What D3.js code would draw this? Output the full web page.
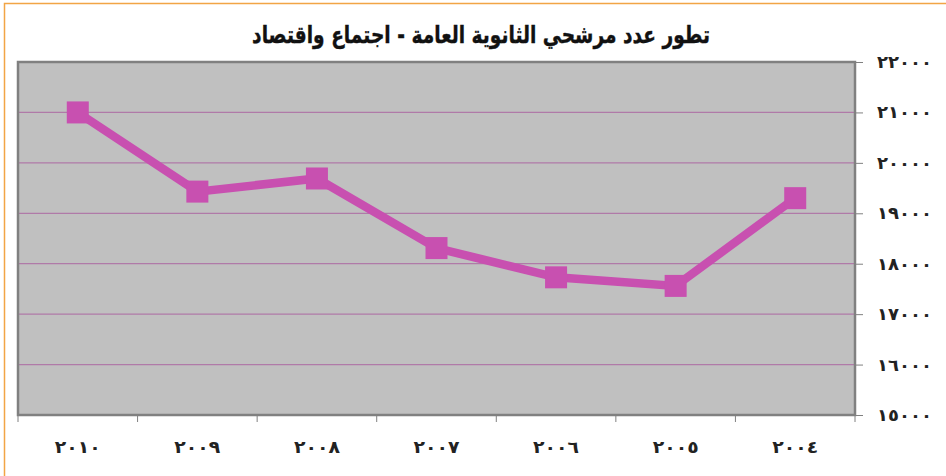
<!DOCTYPE html>
<html lang="ar">
<head>
<meta charset="utf-8">
<script src="https://cdn.jsdelivr.net/npm/d3@7"></script>
<style>
  html, body { margin: 0; padding: 0; background: #ffffff; }
  svg { display: block; }
  text { font-family: "DejaVu Sans", sans-serif; }
</style>
</head>
<body>
<svg id="chart" width="946" height="476"></svg>
<script>
// Candidates for the general secondary exam (sociology & economics track), 2004–2010
const titleText = "تطور عدد مرشحي الثانوية العامة - اجتماع واقتصاد";
const years = ["2010", "2009", "2008", "2007", "2006", "2005", "2004"];
const yearLabels = ["٢٠١٠", "٢٠٠٩", "٢٠٠٨", "٢٠٠٧", "٢٠٠٦", "٢٠٠٥", "٢٠٠٤"];
const candidates = [21000, 19430, 19690, 18310, 17730, 17560, 19300];
const yTicks = [15000, 16000, 17000, 18000, 19000, 20000, 21000, 22000];
const yTickLabels = ["١٥٠٠٠", "١٦٠٠٠", "١٧٠٠٠", "١٨٠٠٠", "١٩٠٠٠", "٢٠٠٠٠", "٢١٠٠٠", "٢٢٠٠٠"];

const svg = d3.select("#chart");
const plot = { left: 18, right: 855, top: 62, bottom: 415 };

const x = d3.scaleBand().domain(years).range([plot.left, plot.right]).padding(0);
const y = d3.scaleLinear().domain([15000, 22000]).range([plot.bottom, plot.top]);

// Place a text node, squeezing it horizontally to a target width
function fitText(parent, str, px, py, width, anchor, opts) {
  const g = parent.append("g");
  const t = g.append("text")
    .attr("x", 0).attr("y", 0)
    .attr("text-anchor", anchor)
    .attr("font-size", opts.size)
    .attr("font-weight", "bold")
    .attr("fill", opts.fill)
    .attr("direction", opts.dir || "ltr")
    .text(str);
  if (opts.stroke) t.attr("stroke", opts.fill).attr("stroke-width", opts.stroke);
  const w = t.node().getComputedTextLength();
  const s = w > 0 ? width / w : 1;
  g.attr("transform", `translate(${px},${py}) scale(${s},1)`);
  return g;
}

// Orange frame around the figure
svg.append("path")
  .attr("d", `M4.5,476 V3.5 H946`)
  .attr("fill", "none")
  .attr("stroke", "#f2a545")
  .attr("stroke-width", 1.5);

// Title
fitText(svg, titleText, 481, 43, 458, "middle", { size: 24, fill: "#111", dir: "rtl", stroke: 0.4 });

// Plot background
svg.append("rect")
  .attr("x", plot.left).attr("y", plot.top)
  .attr("width", plot.right - plot.left).attr("height", plot.bottom - plot.top)
  .attr("fill", "#c0c0c0");

// Horizontal gridlines
svg.append("g")
  .selectAll("line")
  .data(yTicks.filter(v => v > 15000 && v < 22000))
  .join("line")
  .attr("x1", plot.left).attr("x2", plot.right)
  .attr("y1", d => y(d)).attr("y2", d => y(d))
  .attr("stroke", "#b07aa8")
  .attr("stroke-width", 1.2);

// Plot border
svg.append("rect")
  .attr("x", plot.left).attr("y", plot.top)
  .attr("width", plot.right - plot.left).attr("height", plot.bottom - plot.top)
  .attr("fill", "none")
  .attr("stroke", "#808080")
  .attr("stroke-width", 2.5);

// Right value axis: tick marks from the axis generator, labels placed beside them
const yAxis = d3.axisRight(y).tickValues(yTicks).tickSize(8).tickFormat("");
const gy = svg.append("g")
  .attr("transform", `translate(${plot.right},0)`)
  .call(yAxis);
gy.select(".domain").remove();
gy.selectAll(".tick line").attr("stroke", "#808080");
const gyl = svg.append("g");
yTicks.forEach((v, i) => {
  fitText(gyl, yTickLabels[i], 877, y(v) + 6, 55, "start", { size: 17, fill: "#222" });
});

// Bottom category axis: ticks at band boundaries, labels at band centres
const gx = svg.append("g");
const boundaries = years.map(d => x(d)).concat([x(years[years.length - 1]) + x.bandwidth()]);
gx.selectAll("line")
  .data(boundaries)
  .join("line")
  .attr("x1", d => d).attr("x2", d => d)
  .attr("y1", plot.bottom).attr("y2", plot.bottom + 7)
  .attr("stroke", "#808080")
  .attr("stroke-width", 1);
years.forEach((d, i) => {
  fitText(gx, yearLabels[i], x(d) + x.bandwidth() / 2, 453, 46, "middle", { size: 17, fill: "#222" });
});

// Series line
const cx = d => x(d) + x.bandwidth() / 2;
const line = d3.line()
  .x((v, i) => cx(years[i]))
  .y(v => y(v));
svg.append("path")
  .datum(candidates)
  .attr("d", line)
  .attr("fill", "none")
  .attr("stroke", "#c850b0")
  .attr("stroke-width", 8.5)
  .attr("stroke-linejoin", "miter");

// Square markers
const ms = 22;
svg.append("g")
  .selectAll("rect")
  .data(candidates)
  .join("rect")
  .attr("x", (v, i) => cx(years[i]) - ms / 2)
  .attr("y", v => y(v) - ms / 2)
  .attr("width", ms).attr("height", ms)
  .attr("fill", "#c850b0");
</script>
</body>
</html>
